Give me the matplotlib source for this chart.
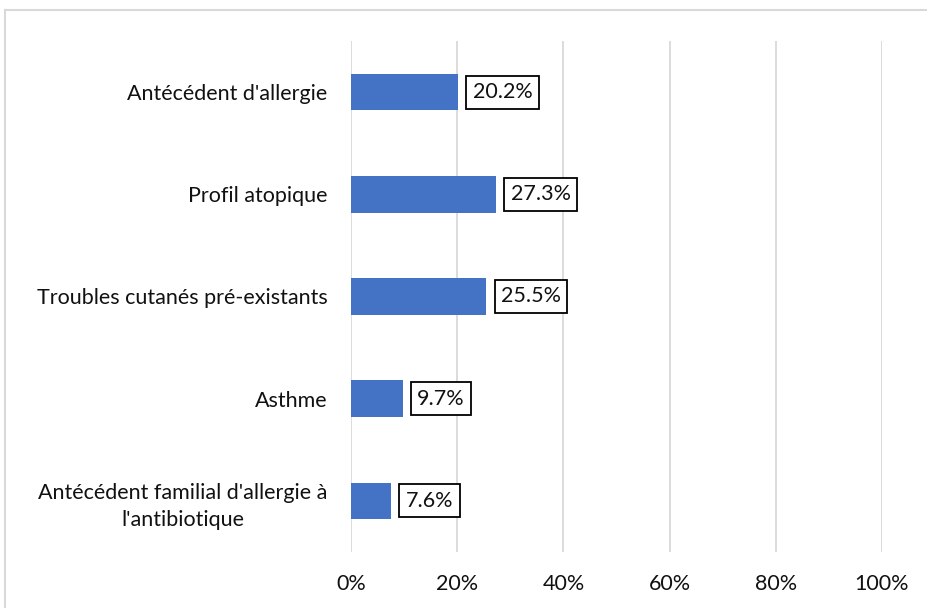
import matplotlib
matplotlib.use("Agg")
import matplotlib.pyplot as plt
from matplotlib.lines import Line2D
from matplotlib.ticker import FuncFormatter

categories = ["Antécédent d'allergie", "Profil atopique", "Troubles cutanés pré-existants",
              "Asthme", "Antécédent familial d'allergie à\nl'antibiotique"]
values = [20.2, 27.3, 25.5, 9.7, 7.6]
xticks = [0, 20, 40, 60, 80, 100]

plt.rcParams['font.family'] = ['Lato', 'DejaVu Sans']
FS = 15.5

fig = plt.figure(figsize=(9.28, 6.08), dpi=100)
# outer frame (only top and left edges visible)
fig.lines.append(Line2D([5/928, 5/928], [0, 1 - 10/608], transform=fig.transFigure,
                        color='#d9d9d9', linewidth=1.5))
fig.lines.append(Line2D([5/928, 1], [1 - 10/608, 1 - 10/608], transform=fig.transFigure,
                        color='#d9d9d9', linewidth=1.5))

ax = fig.add_axes([351/928, 1 - 552/608, 531/928, 511/608])

ypos = list(range(len(categories)))
ax.barh(ypos, values, height=0.36, color='#4472C4', zorder=3)
ax.set_ylim(len(categories) - 0.5, -0.5)
ax.set_xlim(0, 100)
ax.set_xticks(xticks)
ax.xaxis.set_major_formatter(FuncFormatter(lambda v, p: f"{int(v)}%"))
ax.set_yticks(ypos)
ax.set_yticklabels(categories, fontsize=FS, color='#111111', ha='right',
                   multialignment='center', linespacing=1.45)
ax.tick_params(axis='y', length=0, pad=17)
ax.tick_params(axis='x', length=0, labelsize=FS, labelcolor='#111111', pad=16)
for s in ax.spines.values():
    s.set_visible(False)
ax.grid(axis='x', color='#d9d9d9', linewidth=1.3, zorder=0)

for y, v in zip(ypos, values):
    ax.annotate(f"{v:.1f}%", xy=(v, y), xytext=(10.5, 0), textcoords='offset points',
                va='center', ha='left', fontsize=FS, color='#111111',
                bbox=dict(boxstyle='square,pad=0.3', facecolor='white', edgecolor='black', linewidth=1.3),
                zorder=4)

fig.savefig("out.png", dpi=100)
